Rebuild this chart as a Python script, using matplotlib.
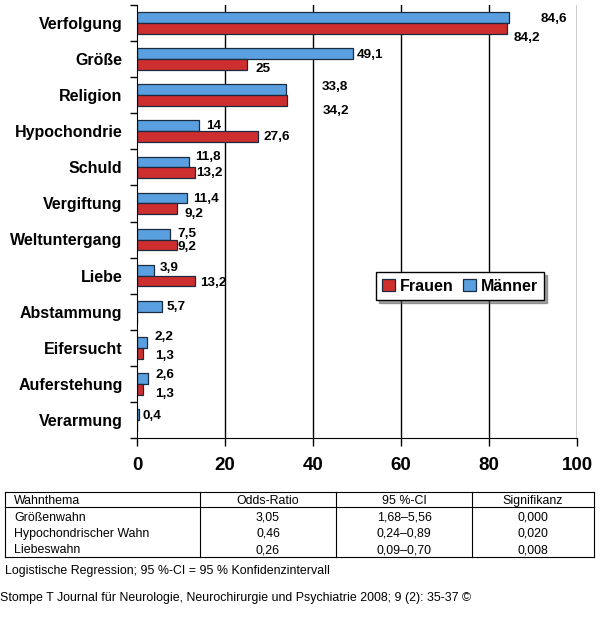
import numpy as np
import matplotlib.pyplot as plt
from matplotlib.lines import Line2D

### 0. Data
themen = ['Verfolgung', 'Größe', 'Religion', 'Hypochondrie', 'Schuld', 'Vergiftung',
          'Weltuntergang', 'Liebe', 'Abstammung', 'Eifersucht', 'Auferstehung', 'Verarmung']
maenner = [84.6, 49.1, 33.8, 14, 11.8, 11.4, 7.5, 3.9, 5.7, 2.2, 2.6, 0.4]
frauen = [84.2, 25, 34.2, 27.6, 13.2, 9.2, 9.2, 13.2, 0, 1.3, 1.3, 0]

tab_header = ['Wahnthema', 'Odds-Ratio', '95 %-CI', 'Signifikanz']
tab_thema = ['Größenwahn', 'Hypochondrischer Wahn', 'Liebeswahn']
tab_or = ['3,05', '0,46', '0,26']
tab_ci = ['1,68–5,56', '0,24–0,89', '0,09–0,70']
tab_sig = ['0,000', '0,020', '0,008']

footnote = 'Logistische Regression; 95 %-CI = 95 % Konfidenzintervall'
source = 'Stompe T Journal für Neurologie, Neurochirurgie und Psychiatrie 2008; 9 (2): 35-37 ©'

# label offsets in pixels (dx right, dy down) - the original has hand-moved labels
off_m = [(31, 1), (4, 1), (36, -3), (8, 0), (6, -5), (6, 1), (7, 0), (6, -2), (4, 1), (8, -5), (7, -3), (4, 1)]
off_f = [(6, 10), (9, 4), (35, 10), (5, 0), (1, 0), (7, 5), (0, 2), (5, 2), (0, 0), (12, 3), (12, 5), (0, 0)]

RED = '#cf2e2e'
BLUE = '#5aa0e0'
EDGE = '#1a2a40'

plt.rcParams['font.family'] = ['Liberation Sans', 'DejaVu Sans']

def fmt(v):
    s = ('%.1f' % v).replace('.', ',')
    return s[:-2] if s.endswith(',0') else s

### 1. Figure
fig = plt.figure(figsize=(6, 6.25), dpi=100)
ax = fig.add_axes([137/600, 1-438/625, 440/600, 433/625])

y = np.arange(len(themen))
h = 0.3
ax.barh(y - h/2, maenner, height=h, color=BLUE, edgecolor=EDGE, linewidth=0.9, label='Männer')
ax.barh(y + h/2, frauen, height=h, color=RED, edgecolor=EDGE, linewidth=0.9, label='Frauen')

for i in range(len(themen)):
    if maenner[i] > 0:
        ax.annotate(fmt(maenner[i]), (maenner[i], y[i] - h/2), xytext=(off_m[i][0], -off_m[i][1]),
                    textcoords='offset pixels', ha='left', va='center', fontsize=9.7, fontweight='bold')
    if frauen[i] > 0:
        ax.annotate(fmt(frauen[i]), (frauen[i], y[i] + h/2), xytext=(off_f[i][0], -off_f[i][1]),
                    textcoords='offset pixels', ha='left', va='center', fontsize=9.7, fontweight='bold')

ax.set_xlim(0, 100)
ax.set_ylim(len(themen) - 0.5, -0.5)
ax.set_xticks([0, 20, 40, 60, 80, 100])
ax.tick_params(axis='x', length=6, width=1, pad=8, labelsize=13.5)
for t in ax.get_xticklabels():
    t.set_fontweight('bold')
ax.set_yticks(np.arange(-0.5, len(themen)))
ax.set_yticklabels([])
ax.tick_params(axis='y', length=5, width=1)
for i, name in enumerate(themen):
    ax.text(-3.3, y[i] + 0.04, name, ha='right', va='center', fontsize=11.5, fontweight='bold')
for xv in [20, 40, 60, 80, 100]:
    ax.axvline(xv, color='black', lw=1, zorder=0)
ax.spines['top'].set_visible(False)
ax.spines['right'].set_visible(False)

handles, labels = ax.get_legend_handles_labels()
leg = ax.legend(handles[::-1], labels[::-1], loc='upper left', bbox_to_anchor=(0.543, 0.383),
                borderaxespad=0, ncol=2, fancybox=False, shadow=True, edgecolor='black',
                prop={'weight': 'bold', 'size': 11.5}, handlelength=0.8, handleheight=0.8,
                handletextpad=0.3, columnspacing=0.6, borderpad=0.4, framealpha=1)
leg.get_frame().set_linewidth(1)

### 2. Table (figure pixel coords)
tx = fig.add_axes([0, 0, 1, 1])
tx.set_xlim(0, 600)
tx.set_ylim(625, 0)
tx.axis('off')
tx.patch.set_alpha(0)

cols = [5, 200, 336, 472, 594]
top, hdr, bot = 492, 507, 557
for xv in cols:
    tx.add_line(Line2D([xv, xv], [top, bot], color='black', lw=0.8))
for yv in [top, hdr, bot]:
    tx.add_line(Line2D([cols[0], cols[-1]], [yv, yv], color='black', lw=0.8))

fs = 8.9
va = 'baseline'
b = 4.4  # baseline below the row centre
tx.text(14, 499.5 + b, tab_header[0], ha='left', va=va, fontsize=fs)
for j in range(1, 4):
    tx.text((cols[j] + cols[j+1]) / 2, 499.5 + b, tab_header[j], ha='center', va=va, fontsize=fs)
rows_y = [516.5, 532.6, 548.7]
for k in range(len(tab_thema)):
    tx.text(14, rows_y[k] + b, tab_thema[k], ha='left', va=va, fontsize=fs)
    for j, col in enumerate([tab_or, tab_ci, tab_sig], start=1):
        tx.text((cols[j] + cols[j+1]) / 2, rows_y[k] + b, col[k], ha='center', va=va, fontsize=fs)

tx.text(5, 570 + b, footnote, ha='left', va=va, fontsize=fs)
tx.text(0, 597 + b, source, ha='left', va=va, fontsize=fs)

fig.savefig('out.png', dpi=100)
